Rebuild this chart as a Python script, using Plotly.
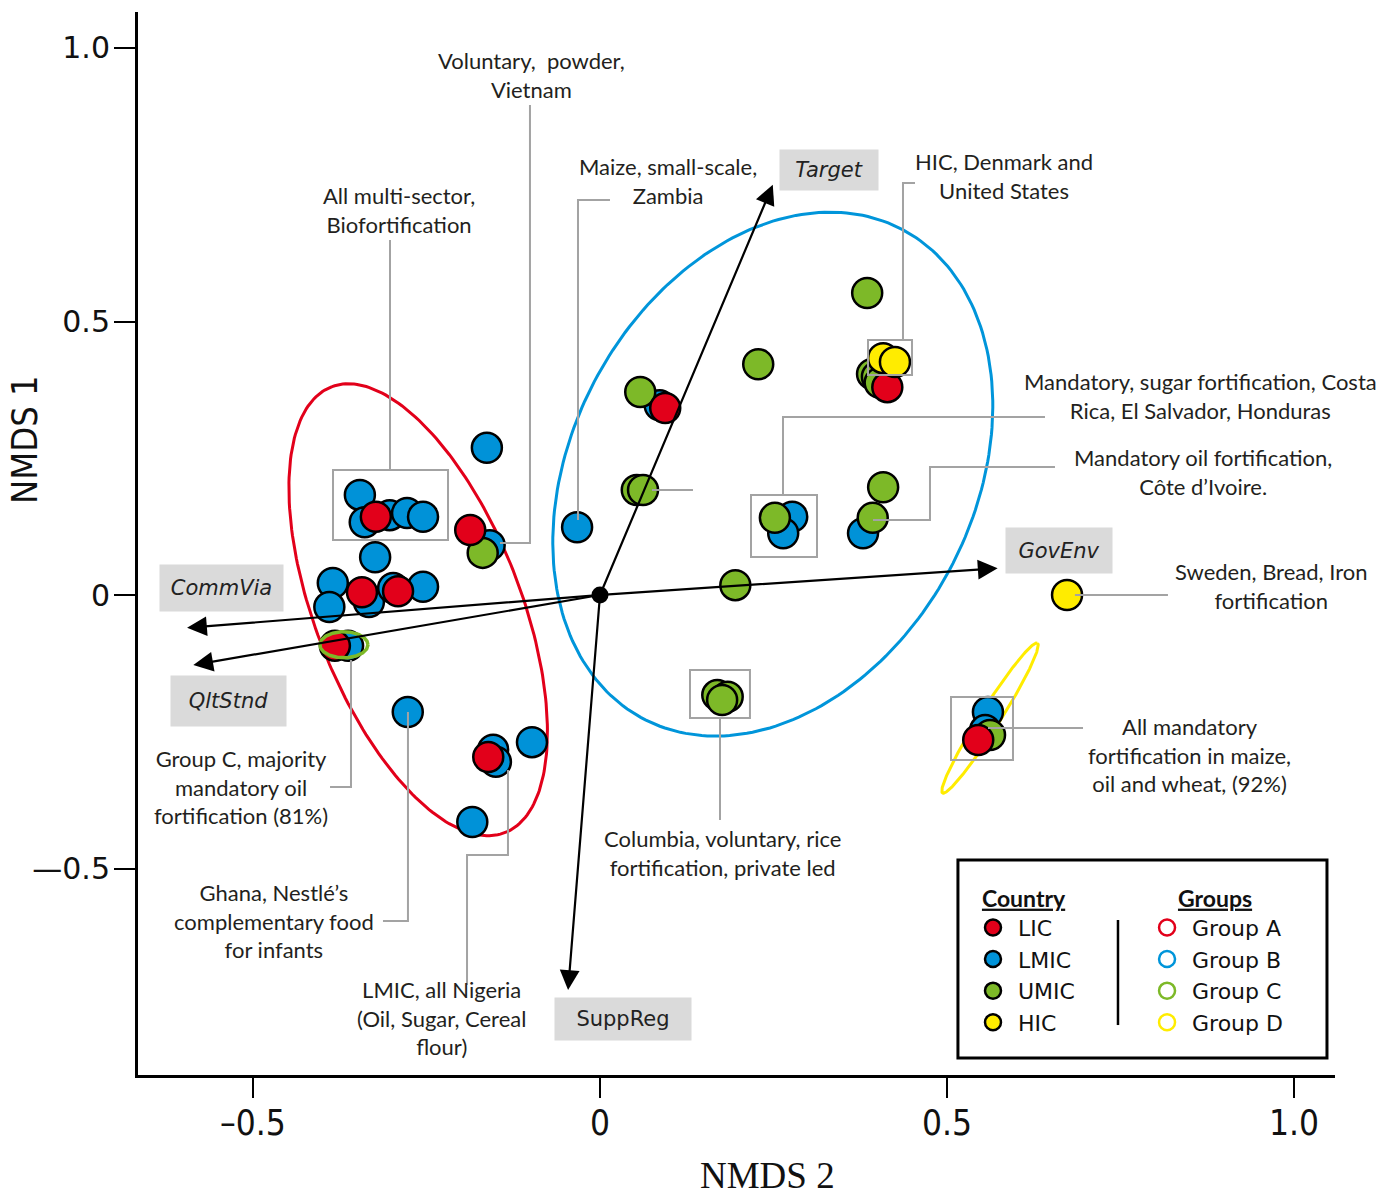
import numpy as np
import plotly.graph_objects as go

# ---------------- data (NMDS scores) ----------------
income_classes = ["LIC", "LMIC", "UMIC", "HIC"]
income_colors = ["#E2001A", "#0092D8", "#7DB928", "#FFEC00"]

lic_x = [-0.323, -0.187, -0.343, -0.291, -0.382, -0.161, 0.094, 0.414, 0.545]
lic_y = [0.143, 0.119, 0.005, 0.007, -0.093, -0.296, 0.342, 0.380, -0.265]

lmic_x = [-0.163, -0.346, -0.339, -0.303, -0.278, -0.255, -0.159, -0.324, -0.385,
          -0.390, -0.333, -0.298, -0.255, -0.363, -0.277, -0.154, -0.150, -0.098,
          -0.184, -0.033, 0.086, 0.277, 0.264, 0.379, 0.559, 0.555]
lmic_y = [0.269, 0.183, 0.133, 0.146, 0.150, 0.143, 0.091, 0.069, 0.022,
          -0.022, -0.013, 0.013, 0.015, -0.093, -0.214, -0.283, -0.305, -0.269,
          -0.415, 0.124, 0.347, 0.143, 0.113, 0.113, -0.214, -0.247]

umic_x = [-0.169, 0.385, 0.228, 0.392, 0.399, 0.403, 0.058, 0.053, 0.062, 0.252,
          0.408, 0.393, 0.195, 0.169, 0.184, 0.176, 0.562]
umic_y = [0.077, 0.552, 0.422, 0.404, 0.399, 0.388, 0.371, 0.192, 0.192, 0.141,
          0.197, 0.141, 0.018, -0.183, -0.186, -0.192, -0.256]

hic_x = [0.408, 0.425, 0.673]
hic_y = [0.433, 0.426, 0.000]

# group ellipses: centre and two conjugate semi-axis vectors (data units)
group_names = ["Group A", "Group B", "Group C", "Group D"]
group_colors = ["#E2001A", "#0095DA", "#7DB928", "#FFEC00"]
ell_cx = [-0.262, 0.249, -0.369, 0.562]
ell_cy = [-0.027, 0.221, -0.091, -0.225]
ell_ux = [-0.124, 0.187, 0.0346, 0.0684]
ell_uy = [0.408, 0.447, 0.0, 0.137]
ell_vx = [-0.139, -0.256, 0.0, -0.0122]
ell_vy = [-0.065, 0.172, 0.0238, 0.0098]

# fitted environmental vectors
vec_names = ["Target", "SuppReg", "GovEnv", "CommVia", "QltStnd"]
vec_x = [0.249, -0.046, 0.573, -0.595, -0.586]
vec_y = [0.750, -0.722, 0.049, -0.060, -0.128]

x_tickvals = [-0.5, 0, 0.5, 1.0]
x_ticktext = ["\u20130.5", "0", "0.5", "1.0"]
y_tickvals = [-0.5, 0, 0.5, 1.0]
y_ticktext = ["\u20140.5", "0", "0.5", "1.0"]

# ---------------- figure ----------------
TXT = "Lato"
NARROW = "Liberation Sans Narrow, DejaVu Sans Condensed, Liberation Sans"
GREY = "#A3A3A3"
fig = go.Figure()

t = np.linspace(0, 2 * np.pi, 240)
def ellipse(i):
    ex = ell_cx[i] + ell_ux[i] * np.cos(t) + ell_vx[i] * np.sin(t)
    ey = ell_cy[i] + ell_uy[i] * np.cos(t) + ell_vy[i] * np.sin(t)
    return ex, ey

for i in [0, 1, 3]:
    ex, ey = ellipse(i)
    fig.add_trace(go.Scatter(x=ex, y=ey, mode="lines", showlegend=False,
                             line=dict(color=group_colors[i], width=3),
                             hoverinfo="skip"))

pts = {"LIC": (lic_x, lic_y), "LMIC": (lmic_x, lmic_y),
       "UMIC": (umic_x, umic_y), "HIC": (hic_x, hic_y)}
draw_order = ["LMIC", "UMIC", "LIC", "HIC"]
for name in draw_order:
    k = income_classes.index(name)
    xs, ys = pts[name]
    fig.add_trace(go.Scatter(
        x=xs, y=ys, mode="markers", name=name, legend="legend",
        legendrank=k + 1,
        marker=dict(size=30, color=income_colors[k],
                    line=dict(color="black", width=2.5))))

# Group C ellipse drawn over its points
ex, ey = ellipse(2)
fig.add_trace(go.Scatter(x=ex, y=ey, mode="lines", showlegend=False,
                         line=dict(color=group_colors[2], width=3.5),
                         hoverinfo="skip"))

# legend entries for the groups
for i, g in enumerate(group_names):
    fig.add_trace(go.Scatter(
        x=[None], y=[None], mode="markers", name=g, legend="legend2",
        marker=dict(size=16, symbol="circle-open", color=group_colors[i],
                    line=dict(width=2.5, color=group_colors[i]))))

# origin of the vectors
fig.add_trace(go.Scatter(x=[0], y=[0], mode="markers", showlegend=False,
                         marker=dict(size=17, color="black")))

annotations = []
for name, vx, vy in zip(vec_names, vec_x, vec_y):
    annotations.append(dict(x=vx, y=vy, ax=0, ay=0, xref="x", yref="y",
                            axref="x", ayref="y", text="", showarrow=True,
                            arrowhead=2, arrowsize=1.8, arrowwidth=2.2,
                            arrowcolor="black", standoff=0, startstandoff=0))

vec_labels = [
    ("Target", 0.330, 0.777, 98, 40, True),
    ("SuppReg", 0.033, -0.775, 136, 42, False),
    ("GovEnv", 0.661, 0.082, 106, 45, True),
    ("CommVia", -0.546, 0.013, 123, 46, True),
    ("QltStnd", -0.536, -0.194, 115, 50, True),
]
for txt, lx, ly, w, h, it in vec_labels:
    annotations.append(dict(
        x=lx, y=ly, xref="x", yref="y", showarrow=False,
        text=f"<i>{txt}</i>" if it else txt,
        font=dict(family="DejaVu Sans", size=21, color="#222"),
        bgcolor="#DADADA", width=w, height=h, borderpad=0))

notes = [
    ("Voluntary,  powder,<br>Vietnam", -0.098, 0.951),
    ("All multi-sector,<br>Biofortification", -0.290, 0.704),
    ("Maize, small-scale,<br>Zambia", 0.098, 0.757),
    ("HIC, Denmark and<br>United States", 0.582, 0.766),
    ("Mandatory, sugar fortification, Costa<br>Rica, El Salvador, Honduras", 0.865, 0.364),
    ("Mandatory oil fortification,<br>C\u00f4te d\u2019Ivoire.", 0.869, 0.225),
    ("Sweden, Bread, Iron<br>fortification", 0.967, 0.016),
    ("All mandatory<br>fortification in maize,<br>oil and wheat, (92%)", 0.850, -0.2925),
    ("Columbia, voluntary, rice<br>fortification, private led", 0.176, -0.472),
    ("Group C, majority<br>mandatory oil<br>fortification (81%)", -0.517, -0.351),
    ("Ghana, Nestl\u00e9\u2019s<br>complementary food<br>for infants", -0.470, -0.596),
    ("LMIC, all Nigeria<br>(Oil, Sugar, Cereal<br>flour)", -0.228, -0.773),
]
for txt, nx, ny in notes:
    annotations.append(dict(x=nx, y=ny, xref="x", yref="y", showarrow=False,
                            text=txt, align="center",
                            font=dict(family=TXT, size=22, color="#231F20")))

# axis titles
annotations.append(dict(x=0.5255, y=-0.0941, xref="paper", yref="paper",
                        xanchor="center", yanchor="middle",
                        showarrow=False, text="NMDS 2",
                        font=dict(family="Liberation Serif", size=37, color="#111")))
annotations.append(dict(x=-0.0944, y=0.5974, xref="paper", yref="paper",
                        xanchor="center", yanchor="middle",
                        showarrow=False, text="NMDS 1", textangle=-90,
                        font=dict(family=NARROW, size=36, color="#111")))

shapes = []
leaders = [
    [(-0.1009, 0.8958), (-0.1009, 0.0951), (-0.1441, 0.0951)],
    [(-0.3026, 0.649), (-0.3026, 0.2285)],
    [(0.0144, 0.7221), (-0.0317, 0.7221), (-0.0317, 0.1371)],
    [(0.4539, 0.7532), (0.4366, 0.7532), (0.4366, 0.4662)],
    [(0.6412, 0.3254), (0.2637, 0.3254), (0.2637, 0.1828)],
    [(0.6556, 0.2340), (0.4755, 0.2340), (0.4755, 0.1371), (0.3934, 0.1371)],
    [(0.0749, 0.192), (0.1340, 0.192)],
    [(0.6844, 0.0), (0.8184, 0.0)],
    [(0.5591, -0.2431), (0.6960, -0.2431)],
    [(0.1729, -0.2249), (0.1729, -0.4113)],
    [(-0.3588, -0.1188), (-0.3588, -0.3510), (-0.3890, -0.3510)],
    [(-0.2767, -0.2139), (-0.2767, -0.5960), (-0.3127, -0.5960)],
    [(-0.1326, -0.3199), (-0.1326, -0.4753), (-0.1916, -0.4753), (-0.1916, -0.7130)],
]
for seg in leaders:
    path = "M " + " L ".join(f"{a},{b}" for a, b in seg)
    shapes.append(dict(type="path", path=path, xref="x", yref="y",
                       line=dict(color=GREY, width=2), layer="above"))

boxes = [
    (-0.3847, 0.1006, -0.2190, 0.2285),
    (0.3862, 0.4022, 0.4496, 0.4662),
    (0.2176, 0.0695, 0.3127, 0.1828),
    (0.1297, -0.2249, 0.2161, -0.1371),
    (0.5058, -0.3016, 0.5951, -0.1865),
]
for x0, y0, x1, y1 in boxes:
    shapes.append(dict(type="rect", x0=x0, y0=y0, x1=x1, y1=y1, xref="x",
                       yref="y", line=dict(color=GREY, width=2), layer="above"))

shapes.append(dict(type="rect", xref="paper", yref="paper", x0=0.6850, x1=0.9933,
                   y0=0.016, y1=0.2023, line=dict(color="black", width=3),
                   fillcolor="white", layer="below"))
shapes.append(dict(type="line", xref="paper", yref="paper", x0=0.8187, x1=0.8187,
                   y0=0.047, y1=0.1458, line=dict(color="black", width=2.5)))

legend_common = dict(yanchor="top", xanchor="left",
                     font=dict(family="DejaVu Sans", size=22, color="#111"),
                     itemwidth=40, bgcolor="rgba(0,0,0,0)", tracegroupgap=0)
fig.update_layout(
    width=1398, height=1200,
    margin=dict(l=138, r=63, t=12, b=125, autoexpand=False),
    paper_bgcolor="white", plot_bgcolor="white",
    annotations=annotations, shapes=shapes,
    legend=dict(x=0.6934, y=0.1865,
                title=dict(text="<b><u>Country</u></b>", side="top center",
                           font=dict(family=TXT, size=23, color="#111")),
                **legend_common),
    legend2=dict(x=0.8388, y=0.1865,
                 title=dict(text="<b><u>Groups</u></b>", side="top center",
                            font=dict(family=TXT, size=23, color="#111")),
                 **legend_common),
    xaxis=dict(range=[-0.6657, 1.0591], showgrid=False, zeroline=False,
               showline=True, linecolor="black", linewidth=3,
               ticks="outside", ticklen=20, tickwidth=2, tickcolor="black",
               tickvals=x_tickvals, ticktext=x_ticktext, ticklabelstandoff=-5,
               tickfont=dict(family=NARROW, size=35, color="#111")),
    yaxis=dict(range=[-0.8775, 1.0658], showgrid=False, zeroline=False,
               showline=True, linecolor="black", linewidth=3,
               ticks="outside", ticklen=21, tickwidth=2, tickcolor="black",
               tickvals=y_tickvals, ticktext=y_ticktext, ticklabelstandoff=-2,
               tickfont=dict(family="DejaVu Sans", size=30, color="#111")),
)

fig.write_html("out.html", config={"displayModeBar": False},
               post_script="document.body.style.margin='0px';")
